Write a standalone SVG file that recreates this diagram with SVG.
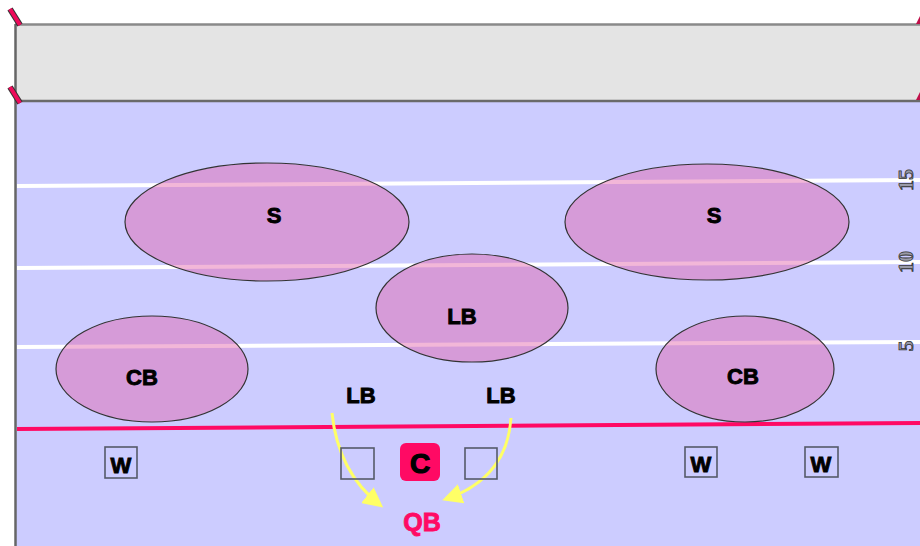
<svg xmlns="http://www.w3.org/2000/svg" width="920" height="546" viewBox="0 0 920 546">
<style>
.yl{stroke:#ffffff;stroke-width:4;fill:none}
.zone{fill:#e25fa9;fill-opacity:0.45;stroke:#333;stroke-width:1.2}
.lbl{font-family:"Liberation Sans",Arial,sans-serif;font-weight:bold;font-size:22px;fill:#000;stroke:#000;stroke-width:0.9;text-anchor:middle}
.box{fill:none;stroke:#555a6a;stroke-width:1.6}
.num{font-family:"Liberation Serif",serif;font-weight:bold;font-size:22px;fill:#9a9aa8;stroke:#333;stroke-width:0.8;text-anchor:middle}
.arr{stroke:#ffff66;stroke-width:3;fill:none;marker-end:url(#ah)}
</style>
<defs>
<marker id="ah" viewBox="0 0 10 10" refX="8" refY="5" markerWidth="20" markerHeight="20" markerUnits="userSpaceOnUse" orient="auto">
<path d="M0,0 L10,5 L0,10 z" fill="#ffff66"/>
</marker>
</defs>
<rect width="920" height="546" fill="#ffffff"/>
<g id="field">
<rect x="15" y="101" width="905" height="445" fill="#ccccff"/>
<rect x="15" y="24" width="905" height="77" fill="#e4e4e4"/>
<line x1="15" y1="24.5" x2="920" y2="24.5" stroke="#8a8a8a" stroke-width="2.5"/>
<line x1="15" y1="101" x2="920" y2="101" stroke="#6a6a6a" stroke-width="2.5"/>
<line x1="15.5" y1="24" x2="15.5" y2="546" stroke="#666" stroke-width="2.5"/>
<line x1="10" y1="9" x2="20" y2="25" stroke="#333" stroke-width="6"/>
<line x1="10" y1="9" x2="20" y2="25" stroke="#ee0a5a" stroke-width="4"/>
<line x1="10" y1="87" x2="20" y2="103" stroke="#333" stroke-width="6"/>
<line x1="10" y1="87" x2="20" y2="103" stroke="#ee0a5a" stroke-width="4"/>
<path d="M916,24 L920,16 L920,24 z" fill="#c0104a"/>
<path d="M916,100 L920,92 L920,100 z" fill="#c0104a"/>
<line class="yl" x1="17" y1="186" x2="920" y2="180"/>
<line class="yl" x1="17" y1="268" x2="920" y2="262"/>
<line class="yl" x1="17" y1="347" x2="920" y2="342"/>
<text class="num" transform="translate(913,180) rotate(-90)">15</text>
<text class="num" transform="translate(913,262) rotate(-90)">10</text>
<text class="num" transform="translate(913,346) rotate(-90)">5</text>
<line x1="17" y1="429" x2="920" y2="423" stroke="#ff0a64" stroke-width="4"/>
</g>
<g id="zone-s-left"><ellipse class="zone" cx="267" cy="222" rx="142" ry="59"/><text class="lbl" x="274" y="223">S</text></g>
<g id="zone-s-right"><ellipse class="zone" cx="707" cy="222" rx="142" ry="58"/><text class="lbl" x="714" y="223">S</text></g>
<g id="zone-lb-mid"><ellipse class="zone" cx="472" cy="308" rx="96" ry="54"/><text class="lbl" x="462" y="324">LB</text></g>
<g id="zone-cb-left"><ellipse class="zone" cx="152" cy="369" rx="96" ry="53"/><text class="lbl" x="142" y="385">CB</text></g>
<g id="zone-cb-right"><ellipse class="zone" cx="745" cy="369" rx="89" ry="53"/><text class="lbl" x="743" y="384">CB</text></g>
<g id="lb-left"><text class="lbl" x="361" y="403">LB</text></g>
<g id="lb-right"><text class="lbl" x="501" y="403">LB</text></g>
<g id="connectors">
<path class="arr" d="M332,413 Q338,472 380,505"/>
<path class="arr" d="M511,418 Q507,478 446,499"/>
</g>
<g id="w1"><rect class="box" x="105" y="447" width="32" height="31"/><text class="lbl" x="121" y="473">W</text></g>
<g id="g-left"><rect class="box" x="341" y="448" width="33" height="31"/></g>
<g id="center"><rect x="400" y="443" width="40" height="38" rx="6" fill="#ff0a64"/><text class="lbl" x="420" y="473" style="font-size:28px;stroke-width:1.2">C</text></g>
<g id="g-right"><rect class="box" x="465" y="448" width="32" height="31"/></g>
<g id="w2"><rect class="box" x="685" y="447" width="32" height="30"/><text class="lbl" x="701" y="472">W</text></g>
<g id="w3"><rect class="box" x="805" y="447" width="33" height="30"/><text class="lbl" x="821" y="472">W</text></g>
<g id="qb"><text class="lbl" x="422" y="531" style="font-size:25px;fill:#ff0a64;stroke:#ff0a64">QB</text></g>
</svg>
